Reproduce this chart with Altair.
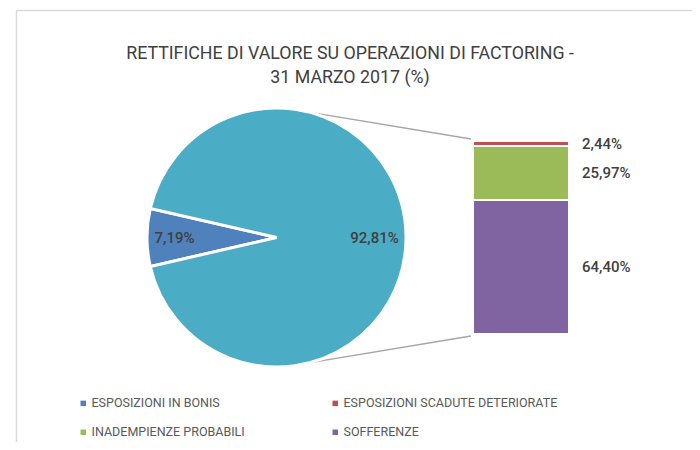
import math
import altair as alt
import pandas as pd

# ---- data ----
pie_categories = ["ESPOSIZIONI IN BONIS", "ESPOSIZIONI DETERIORATE"]
pie_values = [7.19, 92.81]

bar_categories = ["SOFFERENZE", "INADEMPIENZE PROBABILI", "ESPOSIZIONI SCADUTE DETERIORATE"]
bar_values = [64.40, 25.97, 2.44]

# legend fills column by column
legend_order = ["ESPOSIZIONI IN BONIS", "INADEMPIENZE PROBABILI",
                "ESPOSIZIONI SCADUTE DETERIORATE", "SOFFERENZE"]
color_domain = ["ESPOSIZIONI IN BONIS", "ESPOSIZIONI SCADUTE DETERIORATE",
                "INADEMPIENZE PROBABILI", "SOFFERENZE", "ESPOSIZIONI DETERIORATE"]
color_range = ["#4F81BD", "#C0504D", "#9BBB59", "#8064A2", "#4BACC6"]

title_lines = ["RETTIFICHE DI VALORE SU OPERAZIONI DI FACTORING -", "31 MARZO 2017 (%)"]


def fmt(v):
    return f"{v:.2f}".replace(".", ",") + "%"


pie_df = pd.DataFrame({
    "cat": pie_categories,
    "value": pie_values,
    "idx": list(range(len(pie_values))),
    "label": [fmt(v) for v in pie_values],
})
bar_df = pd.DataFrame({
    "cat": bar_categories,
    "value": bar_values,
    "sidx": list(range(len(bar_values))),
    "label": [fmt(v) for v in bar_values],
})
title_df = pd.DataFrame({"t": ["\n".join(title_lines)]})

# ---- layout (pixels relative to the plot area) ----
FONT = "Roboto"
TEXT = "#404040"
W, H = 684, 193
PAD_T, PAD_B = 133, 108
CX, CY, R = 268.5, 96.5, 129.5
start = 1.5 * math.pi - math.pi * pie_values[0] / 100.0
BAR_X0, BAR_X1 = 465, 561

color = alt.Color(
    "cat:N",
    scale=alt.Scale(domain=color_domain, range=color_range),
    legend=alt.Legend(
        values=legend_order, title=None, orient="none", legendX=69, legendY=256,
        columns=2, symbolType="square", symbolSize=30, symbolStrokeWidth=0,
        labelFont=FONT, labelFontSize=12.5, labelColor="#595959", labelOffset=2,
        rowPadding=16, columnPadding=84, padding=0, labelLimit=400,
    ),
)

theta = alt.Theta("value:Q", stack=True,
                  scale=alt.Scale(range=[start, start + 2 * math.pi]))

pie = alt.Chart(pie_df).mark_arc(radius=R, stroke="white", strokeWidth=3).encode(
    theta=theta, color=color, order=alt.Order("idx:Q"),
    x=alt.value(CX), y=alt.value(CY),
)
pie_text = alt.Chart(pie_df).mark_text(
    radius=100, font=FONT, fontSize=15, fontWeight=500, color=TEXT, dx=-2
).encode(
    theta=theta, text="label:N", order=alt.Order("idx:Q"),
    x=alt.value(CX), y=alt.value(CY),
)

yscale = alt.Scale(domain=[0, sum(bar_values)], nice=False, zero=True)
stacked = alt.Chart(bar_df).transform_stack(
    stack="value", groupby=[], as_=["y0", "y1"], sort=[alt.SortField("sidx")]
)
bar = stacked.mark_bar(stroke="white", strokeWidth=2).encode(
    y=alt.Y("y1:Q", scale=yscale, axis=None),
    y2="y0:Q",
    x=alt.value(BAR_X0), x2=alt.value(BAR_X1),
    color=color,
)
bar_text = stacked.transform_calculate(
    mid="(datum.y0 + datum.y1) / 2"
).mark_text(align="left", baseline="middle", font=FONT, fontSize=15,
            fontWeight=500, color=TEXT).encode(
    y=alt.Y("mid:Q", scale=yscale, axis=None),
    x=alt.value(574), text="label:N",
)

# title as text
title = alt.Chart(title_df).mark_text(
    align="center", baseline="alphabetic", lineBreak="\n", lineHeight=24,
    font=FONT, fontSize=17.8, color=TEXT,
).encode(x=alt.value(W / 2), y=alt.value(-82), text="t:N")

# connectors from pie edge to bar corners
ang = math.radians(14.5)
px = CX + R * math.sin(ang)
py_top = CY - R * math.cos(ang)
py_bot = CY + R * math.cos(ang)
conn_df = pd.DataFrame({"k": ["top", "bottom"]})
conn_top = alt.Chart(conn_df.iloc[:1]).mark_rule(color="#A6A6A6", strokeWidth=1.5).encode(
    x=alt.value(px), y=alt.value(py_top), x2=alt.value(BAR_X0 - 2), y2=alt.value(-2)
)
conn_bot = alt.Chart(conn_df.iloc[1:]).mark_rule(color="#A6A6A6", strokeWidth=1.5).encode(
    x=alt.value(px), y=alt.value(py_bot), x2=alt.value(BAR_X0 - 2), y2=alt.value(H + 2)
)

# frame lines (top and left)
frame_top = alt.Chart(conn_df.iloc[:1]).mark_rule(color="#D9D9D9", strokeWidth=1.5).encode(
    x=alt.value(8.5), x2=alt.value(W + 10), y=alt.value(-130.5)
)
frame_left = alt.Chart(conn_df.iloc[:1]).mark_rule(color="#D9D9D9", strokeWidth=1.5).encode(
    x=alt.value(8.5), y=alt.value(-130.5), y2=alt.value(H + PAD_B + 20)
)

chart = alt.layer(
    frame_top, frame_left, conn_top, conn_bot, pie, pie_text, bar, bar_text, title
).properties(
    width=W, height=H,
    padding={"left": 0, "right": 0, "top": PAD_T, "bottom": PAD_B},
    autosize=alt.AutoSizeParams(type="none"),
).configure_view(stroke=None)

chart.save("out.html", embed_options={"renderer": "svg", "actions": False})
